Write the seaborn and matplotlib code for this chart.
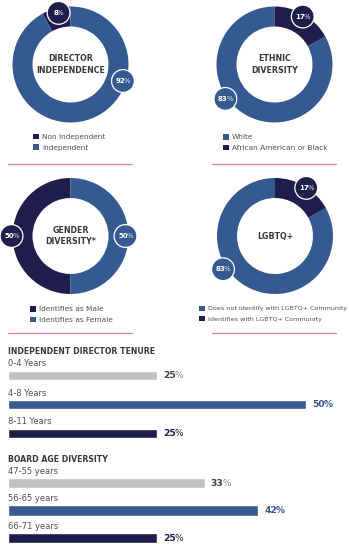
import math
import matplotlib
matplotlib.use("Agg")
import matplotlib.pyplot as plt
import seaborn as sns
import pandas as pd
from matplotlib.patches import Circle
from matplotlib.lines import Line2D

# ---- data ----
director_labels = ["Non Independent", "Independent"]
director_values = [8, 92]

ethnic_labels = ["White", "African American or Black"]
ethnic_values = [83, 17]

gender_labels = ["Identifies as Male", "Identifies as Female"]
gender_values = [50, 50]

lgbtq_labels = ["Does not identify with LGBTQ+ Community", "Identifies with LGBTQ+ Community"]
lgbtq_values = [83, 17]

tenure_labels = ["0-4 Years", "4-8 Years", "8-11 Years"]
tenure_values = [25, 50, 25]

age_labels = ["47-55 years", "56-65 years", "66-71 years"]
age_values = [33, 42, 25]

# ---- style ----
NAVY = "#201c4c"
BLUE = "#355a92"
GREY = "#c0c0c0"
PINK = "#f07c98"
DARK = "#383838"
MID = "#505050"

sns.set_theme(style="white")
plt.rcParams["font.family"] = ["DejaVu Sans"]

W, H = 349, 544
fig = plt.figure(figsize=(W / 100, H / 100), dpi=100)
R = 58.0  # donut outer radius in pixels


def box(left, top, width, height):
    return [left / W, 1 - (top + height) / H, width / W, height / H]


def pct_label(ax, value, xy, offset, ha, num_color, pct_color, size, bold_pct=False, z=6):
    """Bold number followed by a lighter percent sign, sharing one baseline."""
    num = ax.annotate(f"{value}", xy=xy, xytext=offset, textcoords="offset points",
                      ha=ha, va="center", fontsize=size, fontweight="bold",
                      color=num_color, zorder=z)
    ax.annotate("%", xy=(1, 0), xycoords=num, xytext=(-0.9, 0), textcoords="offset points",
                ha="left", va="bottom", fontsize=size,
                fontweight="bold" if bold_pct else "normal", color=pct_color, zorder=z)


def donut(cx, cy, title, labels, values, colors, badges, legend_xy, line_y, line_x,
          legend_size=5.3):
    half = 80
    ax = fig.add_axes(box(cx - half, cy - half, 2 * half, 2 * half))
    ax.pie(values, colors=colors, startangle=90, counterclock=True, radius=1,
           wedgeprops=dict(width=20 / R, edgecolor="none", linewidth=0))
    lim = half / R
    ax.set_xlim(-lim, lim)
    ax.set_ylim(-lim, lim)
    ax.set_aspect("equal")
    ax.set_axis_off()
    ax.text(0, 0, title, ha="center", va="center", fontsize=5.7, fontweight="bold",
            color=DARK, linespacing=1.3)
    for idx, ang, rad in badges:
        x = rad / R * math.cos(math.radians(ang))
        y = rad / R * math.sin(math.radians(ang))
        ax.add_patch(Circle((x, y), 11.4 / R, facecolor=colors[idx], edgecolor="white",
                            linewidth=0.9, zorder=5))
        shift = 1.6 if values[idx] >= 10 else -0.2
        pct_label(ax, values[idx], (x, y), (shift, 0), "right", "white", "#dfe3ee", 5.0)
    handles = ax.patches[:len(values)]
    k = 5.3 / legend_size  # keep the colour squares the same size in every legend
    leg = ax.legend(handles, labels, loc="upper left",
                    bbox_to_anchor=(legend_xy[0] / W, 1 - legend_xy[1] / H),
                    bbox_transform=fig.transFigure, frameon=False, fontsize=legend_size,
                    handlelength=0.8 * k, handleheight=0.8 * k, handletextpad=0.4 * k,
                    labelspacing=0.6 * k, borderpad=0, borderaxespad=0)
    for t in leg.get_texts():
        t.set_color(MID)
    fig.add_artist(Line2D([line_x[0] / W, line_x[1] / W], [1 - line_y / H, 1 - line_y / H],
                          transform=fig.transFigure, color=PINK, linewidth=0.9))


donut(70.5, 64.5, "DIRECTOR\nINDEPENDENCE", director_labels, director_values, [NAVY, BLUE],
      [(0, 103, 53), (1, -17.5, 55)], (33, 133.5), 164, (8, 132))
donut(274.5, 64.5, "ETHNIC\nDIVERSITY", ethnic_labels, ethnic_values, [BLUE, NAVY],
      [(1, 59.5, 55.7), (0, 215, 60)], (223, 134), 164, (212, 336))
donut(70.5, 236, "GENDER\nDIVERSITY*", gender_labels, gender_values, [NAVY, BLUE],
      [(0, 180, 59), (1, 0, 55)], (30, 306), 333, (8, 132))
donut(275, 236, "LGBTQ+", lgbtq_labels, lgbtq_values, [BLUE, NAVY],
      [(1, 57, 57.4), (0, 212.6, 61.7)], (199, 305.5), 333, (212, 336), legend_size=4.55)


def bar_block(title, title_y, labels, values, centre0, spacing, thickness):
    top = centre0 - spacing / 2
    ax = fig.add_axes(box(8, top, 57 * 5.96, 3 * spacing))
    df = pd.DataFrame({"category": labels, "value": values})
    sns.barplot(data=df, x="value", y="category", hue="category",
                palette=[GREY, BLUE, NAVY], orient="h", width=thickness / spacing,
                saturation=1, legend=False, ax=ax)
    ax.set_xlim(0, 57)
    ax.set_ylim(2.5, -0.5)
    ax.set_axis_off()
    colors = [("#404040", "#8a8a8a"), (BLUE, BLUE), (NAVY, NAVY)]
    label_off = 11.5 / spacing
    for i, (lab, val) in enumerate(zip(labels, values)):
        ax.text(0, i - label_off, lab, ha="left", va="center", fontsize=6.0, color=MID)
        nc, pc = colors[i]
        pct_label(ax, val, (val, i), (4.4, -0.3), "left", nc, pc, 6.6, bold_pct=(i == 1))
    fig.text(8 / W, 1 - title_y / H, title, ha="left", va="center", fontsize=5.6,
             fontweight="bold", color=DARK)


bar_block("INDEPENDENT DIRECTOR TENURE", 352, tenure_labels, tenure_values, 375.5, 29, 9.5)
bar_block("BOARD AGE DIVERSITY", 459, age_labels, age_values, 483, 27.5, 10)

fig.savefig("out.png", dpi=100)
